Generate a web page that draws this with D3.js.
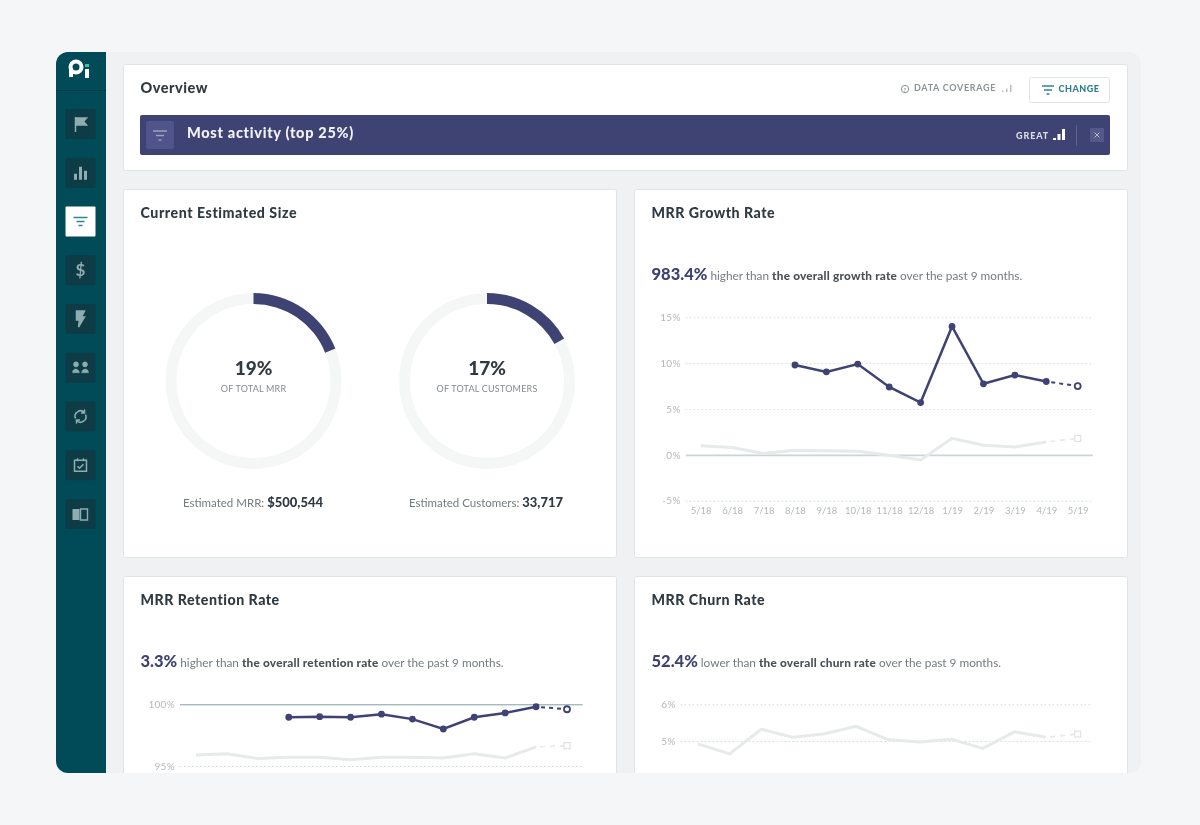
<!DOCTYPE html>
<html>
<head>
<meta charset="utf-8">
<script src="https://cdn.jsdelivr.net/npm/d3@7"></script>
<style>
  html, body { margin: 0; padding: 0; background: #f5f6f8; }
  svg { display: block; font-family: Lato, "Noto Sans", sans-serif; }
  .axis path { display: none; }
  .axis text { fill: #b3b9bd; font-size: 10px; letter-spacing: 0.3px; font-family: Lato, sans-serif; }
</style>
</head>
<body>
<svg id="chart" width="1200" height="825"></svg>
<script>
var months = ['5/18', '6/18', '7/18', '8/18', '9/18', '10/18', '11/18', '12/18', '1/19', '2/19', '3/19', '4/19', '5/19']

// null = no value for that month, last value of every series is the dashed forecast
var growthRate = [null, null, null, 9.8, 9.05, 9.9, 7.4, 5.7, 14.0, 7.75, 8.7, 8.0, 7.5]
var growthOverall = [1.0, 0.8, 0.15, 0.5, 0.45, 0.4, -0.05, -0.55, 1.8, 1.05, 0.85, 1.4, 1.8]
var growthTicks = [15, 10, 5, 0, -5]

var retentionRate = [null, null, null, 98.95, 99.0, 98.95, 99.2, 98.8, 98.0, 98.95, 99.3, 99.8, 99.6]
var retentionOverall = [95.9, 96.0, 95.6, 95.7, 95.7, 95.5, 95.7, 95.7, 95.65, 96.0, 95.65, 96.55, 96.65]
var retentionTicks = [100, 95]

var churnOverall = [4.92, 4.65, 5.32, 5.1, 5.2, 5.4, 5.04, 4.97, 5.05, 4.8, 5.25, 5.1, 5.19]
var churnTicks = [6, 5]

var donutValues = [19, 17]
var donutLabels = ['OF TOTAL MRR', 'OF TOTAL CUSTOMERS']
var donutFooters = ['Estimated MRR:', 'Estimated Customers:']
var donutAmounts = ['$500,544', '33,717']

var navy = '#3f4373', ink = '#2f3a42', teal = '#004b57', pale = '#e6eaea', grey = '#737b83'

var svg = d3.select('#chart')
var root = svg.append('g').style('filter', 'blur(0.5px)')

// app frame, everything is cut off at the bottom of it
svg.append('defs').append('clipPath').attr('id', 'frame')
  .append('rect').attr('x', 56).attr('y', 52).attr('width', 1085).attr('height', 721).attr('rx', 12)
root.append('rect').attr('x', 0).attr('y', 0).attr('width', 1200).attr('height', 825).attr('fill', '#f5f6f8')
var app = root.append('g').attr('clip-path', 'url(#frame)')
app.append('rect').attr('x', 56).attr('y', 52).attr('width', 1085).attr('height', 721).attr('fill', '#eff1f3')

function card(x, y, w, h) {
  app.append('rect').attr('x', x + 0.5).attr('y', y + 0.5).attr('width', w).attr('height', h).attr('rx', 2)
    .attr('fill', '#fff').attr('stroke', '#dfe5e6')
}
function label(parent, x, y, str, size, color, weight, anchor, spacing) {
  return parent.append('text').attr('x', x).attr('y', y).text(str)
    .attr('font-size', size).attr('fill', color).attr('font-weight', weight || 400)
    .attr('text-anchor', anchor || 'start').attr('letter-spacing', spacing || 0)
}

card(123, 64, 1004, 106)
card(123, 189, 493, 368)
card(634, 189, 493, 368)
card(123, 576, 493, 260)
card(634, 576, 493, 260)

label(app, 140.5, 93, 'Overview', 14.5, ink, 900, 'start', 0.5)
label(app, 140.5, 218, 'Current Estimated Size', 14.2, ink, 900, 'start', 0.55)
label(app, 651.5, 218, 'MRR Growth Rate', 14.2, ink, 900, 'start', 0.5)
label(app, 140.5, 605, 'MRR Retention Rate', 14.2, ink, 900, 'start', 0.5)
label(app, 651.5, 605, 'MRR Churn Rate', 14.2, ink, 900, 'start', 0.5)

// sidebar
app.append('rect').attr('x', 56).attr('y', 52).attr('width', 50).attr('height', 721).attr('fill', teal)
app.append('line').attr('x1', 56).attr('x2', 106).attr('y1', 90.5).attr('y2', 90.5).attr('stroke', '#003a44')
app.append('circle').attr('cx', 76).attr('cy', 67).attr('r', 5.5).attr('fill', 'none').attr('stroke', '#fff').attr('stroke-width', 4)
app.append('rect').attr('x', 69).attr('y', 68).attr('width', 4).attr('height', 9).attr('fill', '#fff')
app.append('rect').attr('x', 85).attr('y', 69).attr('width', 4).attr('height', 9).attr('fill', '#fff')
app.append('rect').attr('x', 85).attr('y', 64).attr('width', 4).attr('height', 3).attr('fill', '#3fc0a8')

var iconColor = '#8fadb1'
var navIcons = [
  'M-5,-7V8 M-5,-6H6L3,-2.5L6,1H-5',
  'M-5,7V1 M0,7V-6 M5,7V-2',
  'M-7,-4H7 M-4,0H4 M-2,4H2',
  null,
  'M2,-8H-4L-4,1H-1L-2,8L4,-2H1L4,-8Z',
  'M-8,5C-8,0 -2,0 -1,5Z M1,5C2,0 8,0 8,5Z M-4.5,-6a2.6,2.6 0 1,0 .01,0Z M4.5,-6a2.6,2.6 0 1,0 .01,0Z',
  'M-5,2A5.5,5.5 0 0 1 4,-4 M5,-2A5.5,5.5 0 0 1 -4,4 M4,-7V-3.5H0.5 M-4,7V3.5H-0.5',
  'M-6,-5H6V6H-6Z M-3,-7V-4 M3,-7V-4 M-3,1L-1,3L3,-1',
  'M-8,-5H-1V6H-8Z M1,-5H7V6H1Z'
]
navIcons.forEach(function(d, i) {
  var cy = 124 + i * 48.75
  var active = i === 2
  var g = app.append('g').attr('transform', 'translate(80.5,' + cy + ')')
  g.append('rect').attr('x', -15).attr('y', -15).attr('width', 30).attr('height', 30).attr('rx', 1)
    .attr('fill', active ? '#fff' : '#0d3c47')
  if (d === null) {
    label(g, 0, 6, '$', 17, iconColor, 700, 'middle')
  } else if (i === 8) {
    // book: left page solid, right page only outlined
    g.append('path').attr('d', 'M-8,-5H-1V6H-8Z').attr('fill', iconColor)
    g.append('path').attr('d', 'M0,-5H7V6H0Z').attr('fill', 'none').attr('stroke', iconColor).attr('stroke-width', 1.4)
  } else {
    var filled = i === 0 || i === 4 || i === 5
    g.append('path').attr('d', d)
      .attr('fill', filled ? iconColor : 'none')
      .attr('stroke', active ? '#2c8791' : iconColor)
      .attr('stroke-width', i === 1 ? 3 : (i === 5 ? 0.4 : (active ? 1.6 : 1.5)))
  }
})

// filter band
app.append('rect').attr('x', 140).attr('y', 115).attr('width', 970).attr('height', 40).attr('rx', 2).attr('fill', navy)
app.append('rect').attr('x', 146).attr('y', 121).attr('width', 28).attr('height', 28).attr('rx', 2).attr('fill', '#50548a')
app.append('path').attr('d', 'M153,131H167 M156,135.500H164 M158.500,140H161.500').attr('stroke', '#9da0bd').attr('stroke-width', 1.4)
label(app, 187, 138, 'Most activity (top 25%)', 14.5, '#f2f2f7', 900, 'start', 0.7)
label(app, 1016, 139, 'GREAT', 9, '#dcdde8', 900, 'start', 0.9)
function signal(x, y, color, h, w, gap) {
  h.forEach(function(v, i) {
    app.append('rect').attr('x', x + i * gap).attr('y', y - v).attr('width', w).attr('height', v).attr('fill', color)
  })
}
signal(1053, 140, '#fff', [2, 6, 11], 3, 4.5)
app.append('line').attr('x1', 1076.5).attr('x2', 1076.5).attr('y1', 125).attr('y2', 146).attr('stroke', '#5c6090')
app.append('rect').attr('x', 1090).attr('y', 128).attr('width', 14).attr('height', 14).attr('fill', '#55598a')
app.append('path').attr('d', 'M1094.500,132.500L1099.500,137.500M1099.500,132.500L1094.500,137.500').attr('stroke', '#b4b6cc').attr('stroke-width', 1)

// data coverage + change button
app.append('circle').attr('cx', 905).attr('cy', 89).attr('r', 3.7).attr('fill', 'none').attr('stroke', '#8a9297')
label(app, 905, 91.5, '?', 6, '#8a9297', 700, 'middle')
label(app, 914, 91, 'DATA COVERAGE', 9, '#8a9297', 700, 'start', 0.7)
signal(1002, 92, '#b9bfc3', [1.5, 3.5, 7], 1.5, 4)
app.append('rect').attr('x', 1029.500).attr('y', 77.500).attr('width', 80).attr('height', 25).attr('rx', 2).attr('fill', '#fff').attr('stroke', '#dfe5e6')
app.append('path').attr('d', 'M1042,86H1054 M1044,90H1052 M1046.500,94H1049.500').attr('stroke', '#2c8791').attr('stroke-width', 1.3)
label(app, 1058.500, 92, 'CHANGE', 9, '#2c7f89', 900, 'start', 0.5)

// donuts
var donutCx = [253.5, 487]
var pct = d3.scaleLinear().domain([0, 100]).range([0, 2 * Math.PI])
var ringArc = d3.arc().innerRadius(77).outerRadius(88)
var valueArc = d3.arc().innerRadius(77).outerRadius(88)
donutValues.forEach(function(v, i) {
  var g = app.append('g').attr('transform', 'translate(' + donutCx[i] + ',381)')
  g.append('path').attr('d', ringArc({ startAngle: 0, endAngle: 2 * Math.PI })).attr('fill', '#f5f7f7')
  g.append('path').attr('d', valueArc({ startAngle: pct(0), endAngle: pct(v) })).attr('fill', navy)
  label(g, 0, -6, v + '%', 19, ink, 900, 'middle')
  label(g, 0, 10.500, donutLabels[i], 9, '#838b91', 400, 'middle', 0.2)
})
var footers = app.append('g')
label(footers, 253, 507, '', 11.500, grey, 400, 'middle')
  .call(function(t) {
    t.append('tspan').text(donutFooters[0] + ' ')
    t.append('tspan').text(donutAmounts[0]).attr('font-weight', 900).attr('font-size', 13).attr('fill', ink)
  })
label(footers, 486, 507, '', 11.500, grey, 400, 'middle')
  .call(function(t) {
    t.append('tspan').text(donutFooters[1] + ' ')
    t.append('tspan').text(donutAmounts[1]).attr('font-weight', 900).attr('font-size', 13).attr('fill', ink)
  })

function headline(x, y, big, before, strong, after) {
  var t = label(app, x, y, '', 11.8, grey)
  t.append('tspan').text(big).attr('font-size', 16.500).attr('font-weight', 900).attr('fill', navy)
  t.append('tspan').text(' ' + before + ' ')
  t.append('tspan').text(strong).attr('font-weight', 900).attr('fill', '#4a5259').attr('letter-spacing', 0.2)
  t.append('tspan').text(' ' + after)
}
headline(651.500, 280, '983.4%', 'higher than', 'the overall growth rate', 'over the past 9 months.')
headline(140.500, 667, '3.3%', 'higher than', 'the overall retention rate', 'over the past 9 months.')
headline(651.500, 667, '52.4%', 'lower than', 'the overall churn rate', 'over the past 9 months.')

// one line chart; o holds the pixel box and the series
function lineChart(o) {
  var x = d3.scalePoint().domain(months).range(o.xRange)
  var y = d3.scaleLinear().domain(o.yDomain).range(o.yRange)
  var g = app.append('g')
  var yAxis = d3.axisLeft(y).tickValues(o.ticks).tickSize(-(o.gridRight - o.gridLeft)).tickPadding(5)
    .tickFormat(function(d) { return d + '%' })
  var ya = g.append('g').attr('class', 'axis').attr('transform', 'translate(' + o.gridLeft + ',0)').call(yAxis)
  ya.selectAll('line').attr('stroke', '#d3d8da').attr('stroke-dasharray', '1.5,2.5')
  ya.selectAll('.tick').filter(function(d) { return d === o.solidTick }).select('line')
    .attr('stroke', o.solidColor).attr('stroke-dasharray', null).attr('stroke-width', o.solidWidth)
  if (o.showX) {
    var xa = g.append('g').attr('class', 'axis').attr('transform', 'translate(0,' + o.xAxisY + ')')
      .call(d3.axisBottom(x).tickSize(0).tickPadding(3))
    xa.selectAll('text').style('font-size', '9.5px').style('letter-spacing', '0')
  }

  var line = d3.line()
    .defined(function(d) { return d.v !== null })
    .x(function(d) { return x(d.m) })
    .y(function(d) { return y(d.v) })
  function rows(vals) { return vals.map(function(v, i) { return { m: months[i], v: v } }) }

  // overall series: pale thick line, dashed into the forecast square
  var o1 = rows(o.overall)
  var n = o1.length
  g.append('path').datum(o1.slice(0, n - 1)).attr('d', line).attr('fill', 'none')
    .attr('stroke', pale).attr('stroke-width', 3)
  g.append('path').datum(o1.slice(n - 2)).attr('d', line).attr('fill', 'none')
    .attr('stroke', pale).attr('stroke-width', 1.6).attr('stroke-dasharray', '5,5').attr('stroke-dashoffset', -4)
  g.append('rect').attr('x', x(months[n - 1]) - 3).attr('y', y(o.overall[n - 1]) - 3).attr('width', 6).attr('height', 6)
    .attr('fill', '#fff').attr('stroke', '#dfe3e3').attr('stroke-width', 1.2)

  if (o.rate) {
    var r = rows(o.rate)
    g.append('path').datum(r.slice(0, n - 1)).attr('d', line).attr('fill', 'none')
      .attr('stroke', navy).attr('stroke-width', 2.5)
    g.append('path').datum(r.slice(n - 2)).attr('d', line).attr('fill', 'none')
      .attr('stroke', navy).attr('stroke-width', 2).attr('stroke-dasharray', '4,4').attr('stroke-dashoffset', -5)
    g.selectAll('.pt').data(r.slice(0, n - 1).filter(function(d) { return d.v !== null })).enter().append('circle')
      .attr('cx', function(d) { return x(d.m) }).attr('cy', function(d) { return y(d.v) }).attr('r', 3.4).attr('fill', navy)
    g.append('circle').attr('cx', x(months[n - 1])).attr('cy', y(o.rate[n - 1])).attr('r', 3)
      .attr('fill', '#fff').attr('stroke', navy).attr('stroke-width', 1.8)
  }
}

lineChart({
  xRange: [700.7, 1077.7], yDomain: [-5, 15], yRange: [500.7, 317.3],
  gridLeft: 685.7, gridRight: 1093, ticks: growthTicks,
  solidTick: 0, solidColor: '#c9d6d8', solidWidth: 1.8,
  showX: true, xAxisY: 504,
  rate: growthRate, overall: growthOverall
})
lineChart({
  xRange: [196, 567], yDomain: [95, 100], yRange: [766, 704.3],
  gridLeft: 180, gridRight: 582.7, ticks: retentionTicks,
  solidTick: 100, solidColor: '#7f9fa5', solidWidth: 1,
  rate: retentionRate, overall: retentionOverall
})
lineChart({
  xRange: [698, 1077.7], yDomain: [5, 6], yRange: [741, 704.3],
  gridLeft: 680.7, gridRight: 1093, ticks: churnTicks,
  overall: churnOverall
})
</script>
</body>
</html>
